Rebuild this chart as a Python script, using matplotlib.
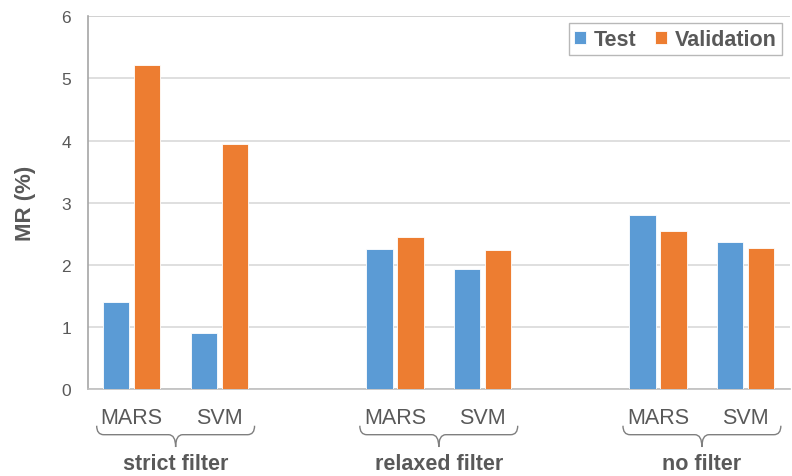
import numpy as np
import matplotlib.pyplot as plt
from matplotlib.path import Path
from matplotlib.patches import PathPatch
import matplotlib.transforms as mtransforms

plt.rcParams['font.family'] = ['Liberation Sans', 'DejaVu Sans']

# data
groups = ["strict filter", "relaxed filter", "no filter"]
models = ["MARS", "SVM"]
test_vals = [1.40, 0.91, 2.25, 1.94, 2.80, 2.36]
valid_vals = [5.22, 3.95, 2.44, 2.24, 2.54, 2.27]

BLUE = '#5B9BD5'
ORANGE = '#ED7D31'
TXT = '#595959'

# slot positions: two models per group, one empty slot between groups
pos = np.array([0, 1, 3, 4, 6, 7], dtype=float)
labels = models * 3

fig = plt.figure(figsize=(7.92, 4.77), dpi=100)
ax = fig.add_axes([0.111, 0.182, 0.886, 0.782])

w = 0.30
off = 0.177
ax.bar(pos - off, test_vals, w, color=BLUE, edgecolor='white', linewidth=0.6, label='Test', zorder=3)
ax.bar(pos + off, valid_vals, w, color=ORANGE, edgecolor='white', linewidth=0.6, label='Validation', zorder=3)

ax.set_xlim(-0.5, 7.5)
ax.set_ylim(0, 6)
ax.set_yticks(range(0, 7))
ax.yaxis.grid(True, color='#D9D9D9', linewidth=1.2, zorder=0)
ax.tick_params(axis='y', length=0, pad=12, labelsize=12.5, labelcolor=TXT)
ax.set_xticks(pos)
ax.set_xticklabels(labels)
ax.tick_params(axis='x', length=0, pad=13, labelsize=15.5, labelcolor=TXT)

for s in ['top', 'right']:
    ax.spines[s].set_visible(False)
ax.spines['left'].set_color('#A6A6A6')
ax.spines['bottom'].set_color('#BFBFBF')
ax.spines['left'].set_linewidth(1.2)
ax.spines['bottom'].set_linewidth(1.2)
ax.axhline(6, color='#A6A6A6', linewidth=1.2, zorder=1)

ax.set_ylabel('MR (%)', fontsize=16, fontweight='bold', color=TXT, labelpad=18)

# braces under each group
trans = mtransforms.blended_transform_factory(ax.transData, ax.transAxes)
for gi, g in enumerate(groups):
    x0 = pos[2 * gi] - 0.4
    x1 = pos[2 * gi + 1] + 0.4
    xm = (x0 + x1) / 2
    ytop, ymid, ybot = -0.098, -0.122, -0.155
    verts = [(x0, ytop), (x0, ymid), (x0 + 0.08, ymid),
             (xm - 0.08, ymid), (xm, ymid), (xm, ybot),
             (xm, ymid), (xm + 0.08, ymid),
             (x1 - 0.08, ymid), (x1, ymid), (x1, ytop)]
    codes = [Path.MOVETO, Path.CURVE3, Path.CURVE3,
             Path.LINETO, Path.CURVE3, Path.CURVE3,
             Path.CURVE3, Path.CURVE3,
             Path.LINETO, Path.CURVE3, Path.CURVE3]
    pp = PathPatch(Path(verts, codes), transform=trans, fill=False,
                   edgecolor='#7F7F7F', linewidth=1.0, clip_on=False)
    ax.add_patch(pp)
    ax.text(xm, -0.198, g, transform=trans, ha='center', va='center',
            fontsize=15.5, fontweight='bold', color=TXT)

leg = ax.legend(loc='upper right', bbox_to_anchor=(0.989, 0.981), ncol=2,
                frameon=True, fancybox=False, edgecolor='#A6A6A6',
                prop={'size': 15.5, 'weight': 'bold'}, handlelength=0.55,
                handleheight=0.55, handletextpad=0.35, columnspacing=0.9,
                borderpad=0.25, borderaxespad=0)
for t in leg.get_texts():
    t.set_color(TXT)
leg.get_frame().set_linewidth(1.0)

fig.savefig('out.png', dpi=100)
